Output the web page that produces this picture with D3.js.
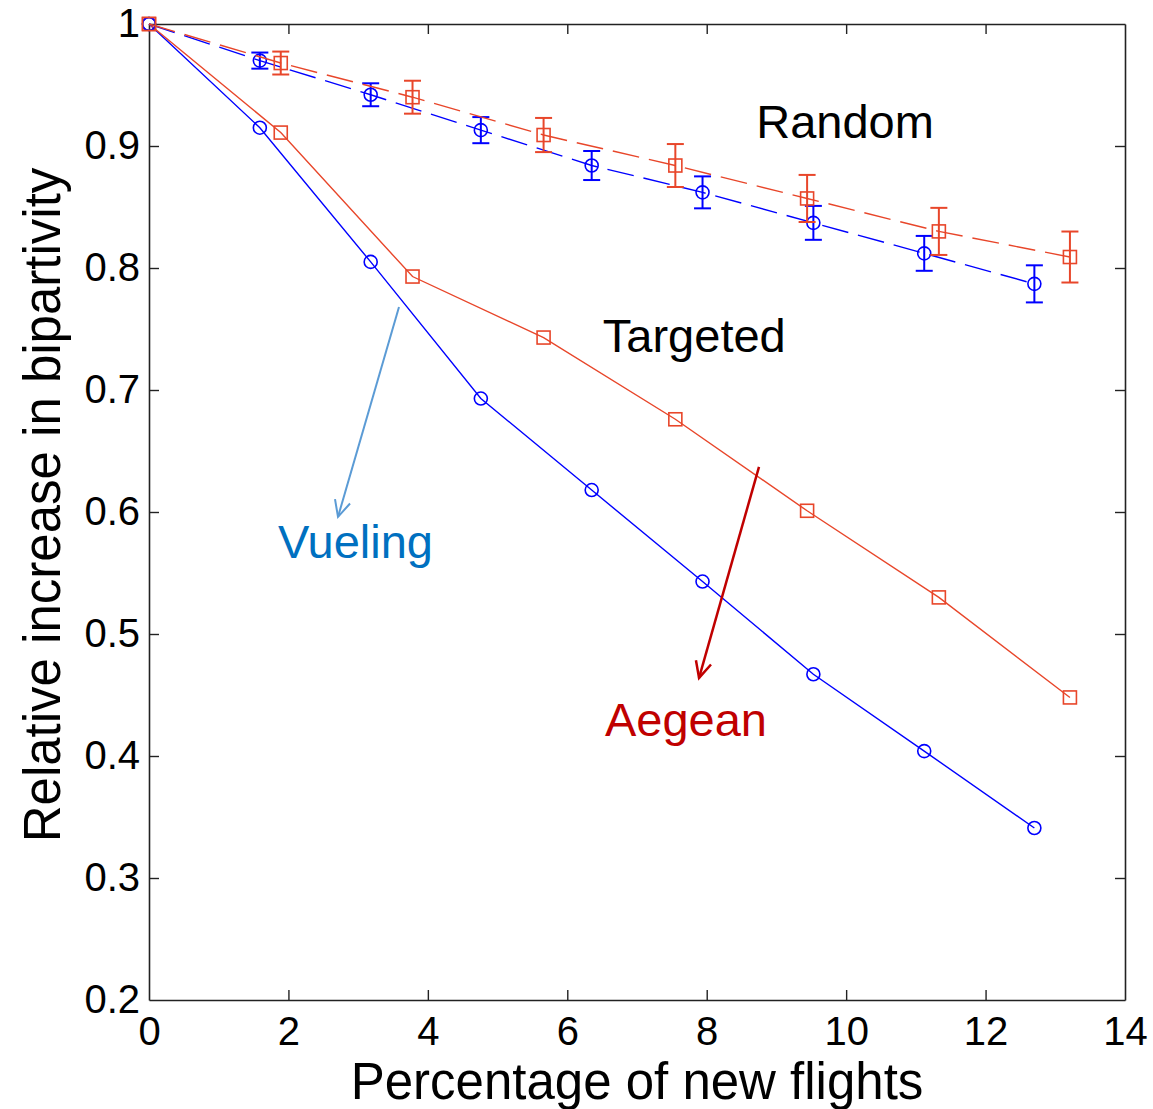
<!DOCTYPE html>
<html><head><meta charset="utf-8">
<script src="https://cdn.jsdelivr.net/npm/d3@7"></script>
<style>body{margin:0;background:#fff}svg{display:block}text{font-family:"Liberation Sans",Arial,sans-serif}</style>
</head><body><svg id="c" width="1153" height="1109"></svg>
<script>
// Data
const xVueling = [0, 1.59, 3.18, 4.76, 6.35, 7.94, 9.53, 11.12, 12.70];
const xAegean  = [0, 1.89, 3.78, 5.66, 7.55, 9.44, 11.33, 13.21];
const vuelingTargeted = [1, 0.915, 0.805, 0.693, 0.618, 0.543, 0.467, 0.404, 0.341];
const aegeanTargeted  = [1, 0.911, 0.793, 0.743, 0.676, 0.601, 0.530, 0.448];
const vuelingRandom    = [1, 0.970, 0.942, 0.913, 0.884, 0.862, 0.837, 0.812, 0.787];
const vuelingRandomErr = [0, 0.0066, 0.0094, 0.0107, 0.0119, 0.0131, 0.0139, 0.0143, 0.0152];
const aegeanRandom     = [1, 0.968, 0.940, 0.909, 0.884, 0.857, 0.830, 0.809];
const aegeanRandomErr  = [0, 0.0094, 0.0135, 0.014, 0.0176, 0.0193, 0.0193, 0.0209];
const xTicks = [0, 2, 4, 6, 8, 10, 12, 14];
const yTicks = [0.2, 0.3, 0.4, 0.5, 0.6, 0.7, 0.8, 0.9, 1];
const labels = [
  {text: "Random",   x: 8.71, y: 0.9066, color: "#000000"},
  {text: "Targeted", x: 6.51, y: 0.731,  color: "#000000"},
  {text: "Vueling",  x: 1.85, y: 0.562,  color: "#0070c0"},
  {text: "Aegean",   x: 6.54, y: 0.416,  color: "#c00000"}
];
const arrows = [
  {x1: 3.586, y1: 0.768, x2: 2.711, y2: 0.596, color: "#5b9bd5", w: 2},
  {x1: 8.75,  y1: 0.637, x2: 7.89,  y2: 0.464, color: "#c00000", w: 2.5}
];

const BLUE = "#0000ff", RED = "#e8462a";
const svg = d3.select("#c");
const x = d3.scaleLinear().domain([0, 14]).range([149, 1125]);
const y = d3.scaleLinear().domain([0.2, 1]).range([1000, 24]);

// Axes (box with inside ticks)
const tickLen = 10;
const axB = svg.append("g").attr("transform", `translate(0,${y(0.2)})`)
  .call(d3.axisBottom(x).tickValues(xTicks).tickFormat(d3.format("d")).tickSizeInner(-tickLen).tickSizeOuter(0).tickPadding(17));
const axT = svg.append("g").attr("transform", `translate(0,${y(1)})`)
  .call(d3.axisTop(x).tickValues(xTicks).tickFormat("").tickSizeInner(-tickLen).tickSizeOuter(0));
const axL = svg.append("g").attr("transform", `translate(${x(0)},0)`)
  .call(d3.axisLeft(y).tickValues(yTicks).tickFormat(d => d === 1 ? "1" : d3.format(".1f")(d)).tickSizeInner(-tickLen).tickSizeOuter(0).tickPadding(9));
const axR = svg.append("g").attr("transform", `translate(${x(14)},0)`)
  .call(d3.axisRight(y).tickValues(yTicks).tickFormat("").tickSizeInner(-tickLen).tickSizeOuter(0));
[axB, axT, axL, axR].forEach(g => {
  g.selectAll("path.domain").attr("stroke", "#222").attr("stroke-width", 1.6);
  g.selectAll(".tick line").attr("stroke", "#222").attr("stroke-width", 1.4);
  g.selectAll("text").attr("fill", "#000").style("font-size", "40px")
    .style("font-family", '"Liberation Sans", Arial, sans-serif');
});
axB.selectAll(".tick").filter(d => d === 0 || d === 14).select("line").remove();
axT.selectAll(".tick").filter(d => d === 0 || d === 14).select("line").remove();
axL.selectAll(".tick").filter(d => d === 0.2 || d === 1).select("line").remove();
axR.selectAll(".tick").filter(d => d === 0.2 || d === 1).select("line").remove();

// Axis titles
svg.append("text").attr("x", (x(0) + x(14)) / 2).attr("y", 1099)
  .attr("text-anchor", "middle").style("font-size", "51px").text("Percentage of new flights");
svg.append("text").attr("transform", `translate(60,${(y(0.2) + y(1)) / 2 - 7}) rotate(-90)`)
  .attr("text-anchor", "middle").style("font-size", "51px").text("Relative increase in bipartivity");

const line = d3.line().x(d => x(d[0])).y(d => y(d[1]));
const plot = svg.append("g");

function series(xs, ys, color, dashed, marker, errs) {
  const pts = xs.map((v, i) => [v, ys[i]]);
  plot.append("path").datum(pts).attr("d", line).attr("fill", "none")
    .attr("stroke", color).attr("stroke-width", 1.4)
    .attr("stroke-dasharray", dashed ? "27,10" : null);
  if (errs) {
    const cap = 8.5;
    pts.forEach((p, i) => {
      if (!errs[i]) return;
      const g = plot.append("g").attr("stroke", color).attr("stroke-width", 2);
      const cx = x(p[0]), top = y(p[1] + errs[i]), bot = y(p[1] - errs[i]);
      g.append("line").attr("x1", cx).attr("x2", cx).attr("y1", top).attr("y2", bot);
      g.append("line").attr("x1", cx - cap).attr("x2", cx + cap).attr("y1", top).attr("y2", top);
      g.append("line").attr("x1", cx - cap).attr("x2", cx + cap).attr("y1", bot).attr("y2", bot);
    });
  }
  if (marker === "circle") {
    plot.selectAll(null).data(pts).enter().append("circle")
      .attr("cx", d => x(d[0])).attr("cy", d => y(d[1])).attr("r", 6.5)
      .attr("fill", "none").attr("stroke", color).attr("stroke-width", 1.6);
  } else {
    plot.selectAll(null).data(pts).enter().append("rect")
      .attr("x", d => x(d[0]) - 6.5).attr("y", d => y(d[1]) - 6.5)
      .attr("width", 13).attr("height", 13)
      .attr("fill", "none").attr("stroke", color).attr("stroke-width", 1.6);
  }
}
series(xVueling, vuelingTargeted, BLUE, false, "circle");
series(xAegean, aegeanTargeted, RED, false, "square");
series(xVueling, vuelingRandom, BLUE, true, "circle", vuelingRandomErr);
series(xAegean, aegeanRandom, RED, true, "square", aegeanRandomErr);

// Annotations
labels.forEach(l => {
  svg.append("text").attr("x", x(l.x)).attr("y", y(l.y)).attr("fill", l.color)
    .style("font-size", "47px").text(l.text);
});
arrows.forEach(a => {
  const x1 = x(a.x1), y1 = y(a.y1), x2 = x(a.x2), y2 = y(a.y2);
  const ang = Math.atan2(y2 - y1, x2 - x1), L = 18, sp = 0.45;
  const g = svg.append("g").attr("stroke", a.color).attr("stroke-width", a.w).attr("fill", "none");
  g.append("line").attr("x1", x1).attr("y1", y1).attr("x2", x2).attr("y2", y2);
  g.append("path").attr("d",
    `M${x2 - L * Math.cos(ang - sp)},${y2 - L * Math.sin(ang - sp)}L${x2},${y2}L${x2 - L * Math.cos(ang + sp)},${y2 - L * Math.sin(ang + sp)}`);
});
</script></body></html>
